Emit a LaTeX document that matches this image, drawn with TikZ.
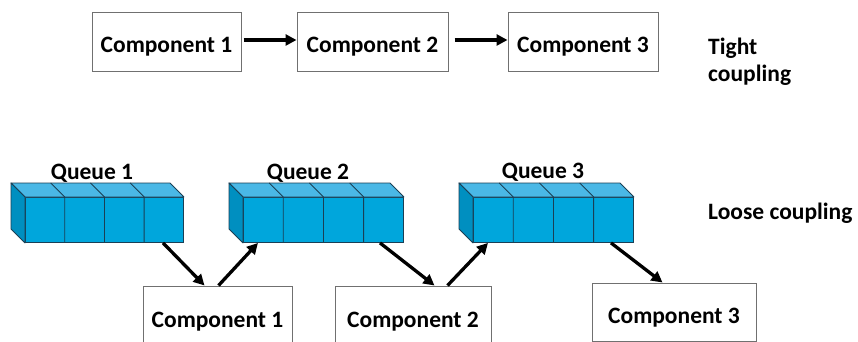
\documentclass[tikz,border=0pt]{standalone}
\usepackage{fontspec}
\setmainfont{Carlito}
\usetikzlibrary{arrows.meta,calc}
\definecolor{qfront}{HTML}{00A6DC}
\definecolor{qtop}{HTML}{4AB8E6}
\definecolor{qside}{HTML}{008FC0}
\definecolor{qline}{HTML}{1A3F55}
\definecolor{boxline}{HTML}{707070}
\tikzset{
  lbl/.style={font=\bfseries\fontsize{23.5}{27}\selectfont, inner sep=0pt},
  comp/.style={draw=boxline, line width=1pt, fill=white, inner sep=0pt,
    font=\bfseries\fontsize{23.5}{27}\selectfont},
  qface/.style={draw=qline, line width=0.9pt, fill=qfront, minimum height=45pt, inner sep=0pt},
  qtopst/.style={draw=qline, line width=0.9pt, fill=qtop, line join=round},
  qsidest/.style={draw=qline, line width=0.9pt, fill=qside, line join=round},
  qdiv/.style={draw=qline, line width=0.9pt},
  flow/.style={line width=3.3pt, -{Triangle[length=11pt,width=11pt]}}
}
\newcommand\drawqueue[3]{%
  \node[qface, minimum width=#3pt, anchor=north west] (#1) at (#2,197) {};
  \filldraw[qtopst] (#1.north west) -- (#1.north east) -- ++(-14,-14) -- ($(#1.north west)+(-14,-14)$) -- cycle;
  \filldraw[qsidest] (#1.north west) -- (#1.south west) -- ++(-14,-14) -- ($(#1.north west)+(-14,-14)$) -- cycle;
  \foreach \i in {1,2,3}{
    \draw[qdiv] ($(#1.south west)!\i/4!(#1.south east)$) -- ($(#1.north west)!\i/4!(#1.north east)$) -- ++(-14,-14);
  }
}
\begin{document}
\begin{tikzpicture}[x=1pt,y=-1pt]
\useasboundingbox (0,0) rectangle (858,342);
% tight coupling
\node[comp, minimum width=149pt, minimum height=59pt, text height=25pt, text depth=4pt] (t1) at (166.5,42.5) {Component 1};
\node[comp, minimum width=151pt, minimum height=59pt, text height=25pt, text depth=4pt] (t2) at (372.5,42.5) {Component 2};
\node[comp, minimum width=150pt, minimum height=59pt, text height=25pt, text depth=4pt] (t3) at (583,42.5) {Component 3};
\draw[flow, shorten <=2pt] (t1.east |- 0,40) coordinate (t1e) -- (t2.west |- t1e);
\draw[flow, shorten <=6pt] (t2.east |- 0,40) coordinate (t2e) -- (t3.west |- t2e);
\node[lbl, align=left, anchor=base west] (tight) at (708,82) {Tight\\coupling};
% loose coupling
\drawqueue{q1}{25}{158}
\drawqueue{q2}{243}{160}
\drawqueue{q3}{473}{160}
\node[lbl, anchor=base] (ql1) at (92,179) {Queue 1};
\node[lbl, anchor=base] (ql2) at (308,179) {Queue 2};
\node[lbl, anchor=base] (ql3) at (543,178) {Queue 3};
\node[comp, minimum width=149pt, minimum height=66pt, text height=20pt, text depth=4pt] (c1) at (217.5,319) {Component 1};
\node[comp, minimum width=156pt, minimum height=66pt, text height=20pt, text depth=4pt] (c2) at (413,319) {Component 2};
\node[comp, minimum width=164pt, minimum height=58pt, text height=27pt, text depth=4pt] (c3) at (674,312) {Component 3};
\node[lbl, anchor=base west] (loose) at (708,219.5) {Loose coupling};
\draw[flow] ([xshift=138pt]q1.south west) -- ([xshift=62pt]c1.north west);
\draw[flow] ([xshift=76pt]c1.north west) -- ([xshift=15pt]q2.south west);
\draw[flow] ([xshift=137pt]q2.south west) -- ([xshift=100pt]c2.north west);
\draw[flow] ([xshift=113pt]c2.north west) -- ([xshift=15pt]q3.south west);
\draw[flow] ([xshift=138pt]q3.south west) -- ([xshift=71pt]c3.north west);
\end{tikzpicture}
\end{document}
